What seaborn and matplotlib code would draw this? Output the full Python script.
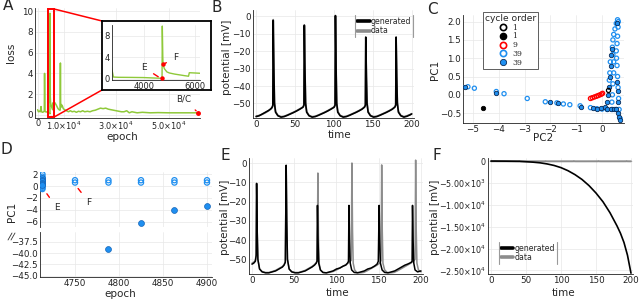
import matplotlib
matplotlib.use("Agg")
import matplotlib.pyplot as plt
import seaborn as sns
from matplotlib.patches import Rectangle, ConnectionPatch
from matplotlib.lines import Line2D
from matplotlib.ticker import FixedLocator, FixedFormatter

sns.set_style("white")
plt.rcParams['font.family'] = ['DejaVu Sans']
plt.rcParams['mathtext.fontset'] = 'dejavusans'

# ---------------- data ----------------
# A: training loss
loss_epoch = [0, 300, 700, 1000, 1300, 1500, 1900, 2300, 2550, 2650,
              2800, 3000, 3500, 4000, 4500, 4700, 4710, 4720, 4740, 4750,
              4800, 4900, 5000, 5200, 5400, 5600, 5750, 5780, 6000, 6200,
              6500, 7000, 7400, 7800, 8200, 8600, 8700, 8800, 9000, 9400,
              9800, 10300, 11000, 11800, 12500, 13200, 14000, 14800, 15600, 16400,
              17200, 18000, 19000, 20000, 21000, 22000, 23000, 24000, 25000, 26000,
              27000, 28000, 29000, 30000, 31000, 32000, 33000, 34000, 35000, 36000,
              37000, 38000, 40000, 43000, 46000, 50000, 55000, 61200]
loss_value = [0.5, 0.3, 0.35, 0.3, 0.8, 0.3, 0.25, 0.3, 0.35, 4.0,
              0.35, 0.3, 0.28, 0.25, 0.15, 0.12, 0.1, 9.8, 4.0, 2.7,
              1.9, 1.3, 1.1, 0.9, 0.75, 0.6, 0.5, 1.15, 1.1, 1.05,
              1.2, 1.0, 0.8, 0.6, 0.5, 0.45, 5.0, 0.7, 1.0, 0.9,
              0.6, 0.5, 0.4, 0.3, 0.4, 0.3, 0.35, 0.25, 0.35, 0.3,
              0.4, 0.3, 0.35, 0.3, 0.4, 0.45, 0.55, 0.65, 0.6, 0.65,
              0.55, 0.5, 0.45, 0.4, 0.35, 0.3, 0.3, 0.4, 0.2, 0.3,
              0.25, 0.2, 0.25, 0.2, 0.22, 0.2, 0.2, 0.2]
marked_epochs = [4710, 4750]
marked_loss = [0.1, 2.7]
bc_epoch, bc_loss = 61200, 0.2

# B: good model
B_time = [0, 4, 8, 12, 16, 19, 20.5, 21.5, 22, 22.8,
          23.6, 25, 28, 32, 36, 40, 44, 48, 52, 56,
          59, 60.5, 61.5, 62, 62.8, 63.6, 65, 68, 72, 76,
          80, 84, 88, 92, 96, 99, 100.5, 101.5, 102, 102.8,
          103.6, 105, 108, 112, 116, 120, 124, 128, 132, 136,
          138, 139.5, 140.5, 141, 141.8, 142.6, 144, 147, 151, 155,
          159, 163, 167, 171, 175, 177, 178.5, 179.5, 180, 180.8,
          181.6, 183, 186, 190, 194, 198, 200]
B_generated = [-57.5, -57, -56, -55, -54, -53, -52.2, -51, -2.5, -30,
               -50, -55, -57, -57.8, -57.5, -56.8, -56, -55.2, -54.3, -53.3,
               -52.5, -52, -51, -5.3, -31, -50, -55, -57, -57.8, -57.5,
               -56.8, -56, -55.2, -54.3, -53.3, -52.5, -52, -51, 0.3, -30,
               -50, -55, -57, -57.8, -57.5, -56.8, -56, -55.2, -54.3, -53.3,
               -52.6, -52, -51, -12, -35, -50, -55, -57, -57.8, -57.5,
               -56.8, -56, -55.2, -54.3, -53.3, -52.6, -52, -51, -12, -35,
               -50, -55, -57, -57.8, -57.3, -56.5, -56]
B_data = [-57.2, -56.8, -56.2, -55.3, -54.2, -53.2, -52.5, -51.5, -2, -28,
          -49, -54.5, -56.8, -57.5, -57.3, -56.6, -55.8, -55, -54.1, -53.1,
          -52.3, -51.8, -50.5, -5, -29, -49, -54.5, -56.8, -57.5, -57.3,
          -56.6, -55.8, -55, -54.1, -53.1, -52.3, -51.8, -50.5, 0, -28,
          -49, -54.5, -56.8, -57.5, -57.3, -56.6, -55.8, -55, -54.1, -53.1,
          -52.4, -51.8, -50.5, -12.5, -33, -49, -54.5, -56.8, -57.5, -57.3,
          -56.6, -55.8, -55, -54.1, -53.1, -52.4, -51.8, -50.5, -12.5, -33,
          -49, -54.5, -56.8, -57.5, -57, -56.3, -55.8]

# C: phase-space points (PC2, PC1)
C_open39_pc2 = [-5.45, -5.2, -4.95, -4.1, -3.8, -2.9, -2.2, -1.75, -1.5, -1.25,
                -0.85, -0.45, -0.2, 0.0, 0.2, 0.4, 0.55, 0.38, 0.4, 0.42,
                0.45, 0.45, 0.42, 0.4, 0.42, 0.45, 0.5, 0.55, 0.6, 0.63,
                0.62, 0.6, 0.58, 0.55, 0.56, 0.58, 0.6, 0.62, 0.64, 0.66,
                0.7, 0.3, 0.32, 0.28]
C_open39_pc1 = [0.21, 0.22, 0.18, 0.09, 0.03, -0.1, -0.19, -0.22, -0.25, -0.27,
                -0.3, -0.35, -0.38, -0.39, -0.4, -0.4, -0.4, -0.2, 0.0, 0.3,
                0.6, 0.9, 1.1, 1.3, 1.5, 1.65, 1.8, 1.95, 2.05, 2.0,
                1.85, 1.6, 1.4, 1.2, 1.0, 0.8, 0.5, 0.2, -0.1, -0.4,
                -0.65, 0.6, 0.9, 0.4]
C_fill39_pc2 = [-5.3, -4.1, -2.0, -1.72, -0.8, -0.35, -0.2, -0.05, 0.1, 0.2,
                0.22, 0.25, 0.3, 0.33, 0.36, 0.38, 0.2, 0.35, 0.45, 0.55,
                0.62, 0.65, 0.68, 0.63, 0.6, 0.58, 0.58]
C_fill39_pc1 = [0.21, 0.06, -0.2, -0.23, -0.32, -0.37, -0.38, -0.37, -0.33, -0.2,
                0.0, 0.2, 0.5, 0.8, 1.1, 1.25, -0.4, -0.4, -0.4, -0.4,
                -0.5, -0.6, -0.7, -0.2, 0.1, 0.35, 1.95]
C_open9_pc2 = [-0.45, -0.38, -0.3, -0.22, -0.15, -0.08, -0.02, 0.02]
C_open9_pc1 = [-0.1, -0.08, -0.06, -0.04, -0.02, 0.0, 0.02, 0.04]
C_open1_pc2 = [0.25]
C_open1_pc1 = [0.12]
C_fill1_pc2 = [-4.6]
C_fill1_pc1 = [-0.35]
C_legend_labels = ["1", "1", "9", "39", "39"]

# D: PC1 per epoch
D_open_epoch = [4713, 4713, 4713, 4713, 4713, 4713, 4713, 4713, 4713, 4713, 4713, 4713,
                4750, 4750, 4788, 4788, 4825, 4825, 4863, 4863, 4900, 4900]
D_open_pc1 = [2.0, 1.6, 1.3, 1.1, 0.9, 0.7, 0.5, 0.3, 0.1, -0.1, -0.3, -0.5,
              1.0, 0.6, 1.0, 0.6, 1.0, 0.6, 1.0, 0.6, 1.0, 0.6]
D_fill_epoch = [4713, 4713, 4713, 4713, 4713, 4713, 4788, 4825, 4863, 4900]
D_fill_pc1 = [1.3, 1.0, 0.8, 0.6, 0.4, 0.2, -39.0, -6.3, -4.0, -3.35]

# E: model at epoch E
E_gen_time = [0, 2, 4, 5, 5.5, 6.2, 7, 9, 12, 16,
              20, 24, 28, 32, 36, 38, 39.5, 40.5, 41.2, 42,
              44, 47, 51, 55, 59, 63, 67, 71, 74, 76,
              77, 77.5, 78.2, 79, 81, 84, 88, 92, 96, 100,
              104, 108, 111, 113, 114.2, 114.8, 115.5, 116.3, 118, 121,
              125, 129, 133, 137, 141, 145, 148, 149.5, 150.5, 151.2,
              152, 154, 157, 161, 165, 169, 173, 177, 181, 184,
              186.5, 188.5, 189.5, 190, 190.7, 191.5, 193, 196, 200]
E_generated = [-52.5, -52, -51, -48, -10.6, -35, -50, -55, -56.5, -57,
               -57, -56.5, -56, -55, -54, -53, -51.5, -1.2, -30, -50,
               -55, -56.5, -57, -57, -56.5, -56, -55, -54, -53, -52,
               -51, -22, -40, -52, -55.5, -56.8, -57, -56.5, -56, -55,
               -54.5, -53.5, -53, -52, -51, -22, -40, -52, -55.5, -56.8,
               -57, -56.5, -56, -55, -54.5, -53.5, -52.5, -51, -22, -40,
               -52, -55.5, -56.8, -57, -56.5, -56, -55, -54, -53, -52.5,
               -52, -51.5, -51, -22, -40, -52, -55.5, -56.5, -56]
E_data_time = [0, 2, 4, 5, 5.5, 6.2, 7, 9, 12, 16,
               20, 24, 28, 32, 36, 38, 39.5, 40.5, 41.2, 42,
               44, 47, 51, 55, 59, 63, 67, 71, 74, 76,
               77.3, 78, 78.7, 79.5, 81, 84, 88, 92, 96, 100,
               104, 108, 112, 115, 117.5, 118.3, 119, 119.8, 121.5, 124,
               128, 132, 136, 140, 144, 148, 151, 152.8, 153.5, 154.2,
               155, 157, 160, 164, 168, 172, 176, 180, 184, 188,
               191, 193, 193.7, 194.4, 195.2, 197, 200]
E_data = [-52, -51.5, -50.5, -47, -10.6, -35, -50, -55, -56.3, -56.8,
          -56.8, -56.3, -55.7, -54.7, -53.7, -52.7, -51, -1.2, -30, -50,
          -55, -56.3, -56.8, -56.8, -56.3, -55.7, -54.7, -53.7, -52.7, -51.7,
          -50.5, -5.2, -38, -52, -55.5, -56.8, -57, -56.8, -56.3, -55.5,
          -54.5, -53.5, -52.5, -51.5, -50.5, 0, -35, -52, -55.5, -56.8,
          -57, -56.8, -56, -55, -54, -53, -52, -50.5, -1, -35,
          -52, -55.5, -56.8, -57, -56.8, -56, -55, -54, -53, -52,
          -51, -50, 1.5, -35, -52, -55.5, -56.5]

# F: model at epoch F (diverging)
F_time = [0, 20, 40, 50, 60, 70, 80, 90, 100, 110, 120, 130, 140, 150, 160, 170, 180, 185, 190, 195, 200]
F_generated = [0, -20, -60, -150, -250, -400, -650, -1000, -1500, -2200, -3100, -4200, -5600,
               -7300, -9300, -11800, -14800, -16500, -18600, -21500, -25600]

# tick labels
A_xticks = [0, 10000, 30000, 50000]
A_xticklabels = ["0", r"$1.0{\times}10^{4}$", r"$3.0{\times}10^{4}$", r"$5.0{\times}10^{4}$"]
F_yticks = [0, -5000, -10000, -15000, -20000, -25000]
F_yticklabels = ["0", r"$-5.00{\times}10^{3}$", r"$-1.00{\times}10^{4}$", r"$-1.50{\times}10^{4}$",
                 r"$-2.00{\times}10^{4}$", r"$-2.50{\times}10^{4}$"]
D_bottom_yticks = [-37.5, -40.0, -42.5, -45.0]
D_bottom_yticklabels = ["\u221237.5", "\u221240.0", "\u221242.5", "\u221245.0"]

# ---------------- styling ----------------
W, H = 640, 306
GREEN = "#8fc93a"
BLUE = "#1f8ff0"
GEN = "black"
DAT = "#8c8c8c"
TS = 6.3
LS = 7.5

fig = plt.figure(figsize=(6.4, 3.06), dpi=100)


def add_ax(l, t, r, b, **kw):
    return fig.add_axes([l / W, 1 - b / H, (r - l) / W, (b - t) / H], **kw)


def style(ax, grid=True):
    for s in ["top", "right"]:
        ax.spines[s].set_visible(False)
    for s in ["left", "bottom"]:
        ax.spines[s].set_color("#222222")
        ax.spines[s].set_linewidth(0.6)
    ax.tick_params(labelsize=TS, length=2, width=0.5, direction="in", pad=1.5, colors="#222222")
    ax.grid(grid, color="#e8e8e8", lw=0.5)
    ax.set_axisbelow(True)
    ax.set_xlabel("")
    ax.set_ylabel("")


def ftext(x, y, s, **kw):
    kw.setdefault("ha", "center")
    kw.setdefault("va", "center")
    kw.setdefault("fontsize", LS)
    fig.text(x / W, 1 - y / H, s, **kw)


def vbar_legend(leg):
    fig.canvas.draw()
    bb = leg.get_window_extent().transformed(fig.transFigure.inverted())
    for xx in (bb.x0, bb.x1):
        fig.add_artist(Line2D([xx, xx], [bb.y0, bb.y1], transform=fig.transFigure,
                              color="#9a9a9a", lw=0.8))


# ---------------- A ----------------
axA = add_ax(35, 8, 200, 118)
sns.lineplot(x=loss_epoch, y=loss_value, ax=axA, color=GREEN, lw=1.1, estimator=None, sort=False)
axA.set_xlim(-1000, 62000)
axA.set_ylim(-0.3, 10.3)
axA.xaxis.set_major_locator(FixedLocator(A_xticks))
axA.xaxis.set_major_formatter(FixedFormatter(A_xticklabels))
axA.set_yticks([0, 2, 4, 6, 8, 10])
style(axA)
axA.tick_params(axis="x", labelsize=5.9, pad=1.0)
axA.add_patch(Rectangle((3850, -0.2), 2500, 10.4, fill=False, edgecolor="red", lw=1.4, zorder=5))
axA.plot([bc_epoch], [bc_loss], "o", color="red", ms=2.5, zorder=6)
axA.annotate("B/C", xy=(bc_epoch - 300, bc_loss + 0.1), xytext=(55900, 1.5), fontsize=6.3,
             ha="center", va="center",
             arrowprops=dict(arrowstyle="-", color="red", lw=1, shrinkA=3, shrinkB=1))

# inset box and connectors
box = add_ax(102, 21, 211, 90)
box.set_xticks([]); box.set_yticks([])
for s in box.spines.values():
    s.set_color("black"); s.set_linewidth(1.3)
box.set_zorder(3)
for (xa, ya), (xb, yb) in [((6350, 10.2), (102, 21)), ((6350, -0.2), (102, 90))]:
    cp = ConnectionPatch(xyA=(xa, ya), coordsA=axA.transData,
                         xyB=(xb / W, 1 - yb / H), coordsB=fig.transFigure,
                         color="red", lw=1.1)
    fig.add_artist(cp)

axI = add_ax(112, 25, 200, 80)
axI.set_zorder(4)
sns.lineplot(x=loss_epoch, y=loss_value, ax=axI, color=GREEN, lw=1.0, estimator=None, sort=False)
axI.set_xlim(2745, 6200)
axI.set_ylim(-0.2, 10)
axI.set_xticks([4000, 6000])
axI.set_yticks([0, 4, 8])
style(axI)
axI.tick_params(labelsize=6)
axI.plot(marked_epochs, marked_loss, "o", color="red", ms=2.2, zorder=6)
axI.annotate("E", xy=(4560, 0.4), xytext=(4000, 2.1), fontsize=6.5, ha="center", va="center",
             arrowprops=dict(arrowstyle="-", color="red", lw=1, shrinkA=3, shrinkB=0))
axI.annotate("F", xy=(4790, 2.8), xytext=(5255, 3.9), fontsize=6.5, ha="center", va="center",
             arrowprops=dict(arrowstyle="-", color="red", lw=1, shrinkA=3, shrinkB=0))

ftext(11, 53, "loss", rotation=90)
ftext(122, 137, "epoch")

# ---------------- B ----------------
axB = add_ax(253, 10, 414, 118)
sns.lineplot(x=B_time, y=B_data, ax=axB, color=DAT, lw=1.2, estimator=None, sort=False, zorder=2)
sns.lineplot(x=B_time, y=B_generated, ax=axB, color=GEN, lw=1.2, estimator=None, sort=False, zorder=3)
axB.set_xlim(-4, 203)
axB.set_ylim(-58.3, 3.5)
axB.set_xticks([0, 50, 100, 150, 200])
axB.set_yticks([0, -10, -20, -30, -40, -50])
style(axB)
hB = [Line2D([], [], color=GEN, lw=2.6), Line2D([], [], color=DAT, lw=2.6)]
legB = axB.legend(hB, ["generated", "data"], loc="upper right", bbox_to_anchor=(413 / W, 1 - 15 / H),
                  bbox_transform=fig.transFigure, frameon=False, fontsize=5.6, handlelength=1.6,
                  handletextpad=0.1, labelspacing=0.05, borderpad=0.25, borderaxespad=0)
ftext(227, 57, "potential [mV]", rotation=90)
ftext(340, 135, "time")

# ---------------- C ----------------
axC = add_ax(463, 15, 624, 123)
sns.scatterplot(x=C_open39_pc2, y=C_open39_pc1, ax=axC, color=BLUE, facecolor="none",
                edgecolor=BLUE, linewidth=0.9, s=9, zorder=3)
sns.scatterplot(x=C_fill39_pc2, y=C_fill39_pc1, ax=axC, color=BLUE, edgecolor="#0a2a55",
                linewidth=0.6, s=10, zorder=4)
sns.scatterplot(x=C_open9_pc2, y=C_open9_pc1, ax=axC, color="red", facecolor="none",
                edgecolor="red", linewidth=0.9, s=9, zorder=5)
sns.scatterplot(x=C_open1_pc2, y=C_open1_pc1, ax=axC, color="black", facecolor="none",
                edgecolor="black", linewidth=0.9, s=9, zorder=6)
sns.scatterplot(x=C_fill1_pc2, y=C_fill1_pc1, ax=axC, color="black", edgecolor="black",
                linewidth=0.6, s=10, zorder=6)
axC.set_xlim(-5.39, 0.85)
axC.set_ylim(-0.77, 2.18)
axC.set_xticks([-5, -4, -3, -2, -1, 0])
axC.set_yticks([-0.5, 0.0, 0.5, 1.0, 1.5, 2.0])
style(axC)
hC = [Line2D([], [], ls="", marker="o", ms=4.5, mfc="none", mec="black", mew=1.2),
      Line2D([], [], ls="", marker="o", ms=4.5, mfc="black", mec="black", mew=1.0),
      Line2D([], [], ls="", marker="o", ms=4.5, mfc="none", mec="red", mew=1.2),
      Line2D([], [], ls="", marker="o", ms=4.5, mfc="none", mec=BLUE, mew=1.2),
      Line2D([], [], ls="", marker="o", ms=4.5, mfc=BLUE, mec="#0a2a55", mew=0.6)]
legC = axC.legend(hC, C_legend_labels, title="cycle order", loc="upper left",
                  bbox_to_anchor=(483 / W, 1 - 12 / H), bbox_transform=fig.transFigure,
                  title_fontsize=6.6, prop={"family": "DejaVu Serif", "size": 5.5},
                  handlelength=1.1, handletextpad=0.6, labelspacing=0.1, borderpad=0.25,
                  borderaxespad=0, fancybox=False, framealpha=1, edgecolor="#444444")
legC.get_frame().set_linewidth(0.6)
legC.set_zorder(10)
ftext(435, 70, "PC1", rotation=90)
ftext(543, 138, "PC2")

# ---------------- D ----------------
axDt = add_ax(40, 172, 212, 227)
axDb = add_ax(40, 232, 212, 277)
for ax in (axDt, axDb):
    sns.scatterplot(x=D_open_epoch, y=D_open_pc1, ax=ax, color=BLUE, facecolor="none",
                    edgecolor=BLUE, linewidth=0.9, s=14, zorder=3)
    sns.scatterplot(x=D_fill_epoch, y=D_fill_pc1, ax=ax, color=BLUE, edgecolor="#1565b8",
                    linewidth=0.5, s=18, zorder=4)
    ax.set_xlim(4710.2, 4905.7)
    ax.set_xticks([4750, 4800, 4850, 4900])
axDt.set_ylim(-6.93, 2.39)
axDt.set_yticks([2, 0, -2, -4, -6])
axDb.set_ylim(-45.3, -35.35)
axDb.yaxis.set_major_locator(FixedLocator(D_bottom_yticks))
axDb.yaxis.set_major_formatter(FixedFormatter(D_bottom_yticklabels))
style(axDt)
style(axDb)
axDt.tick_params(labelbottom=False, bottom=False)
axDt.spines["bottom"].set_visible(False)
axDt.annotate("E", xy=(4718, -1.3), xytext=(4729.5, -3.7), fontsize=6.5, ha="center", va="center",
              arrowprops=dict(arrowstyle="-", color="red", lw=1, shrinkA=2.5, shrinkB=0))
axDt.annotate("F", xy=(4753.5, -0.4), xytext=(4766, -2.8), fontsize=6.5, ha="center", va="center",
              arrowprops=dict(arrowstyle="-", color="red", lw=1, shrinkA=2.5, shrinkB=0))
for dx in (0, 3):
    fig.add_artist(Line2D([(8 + dx) / W, (12 + dx) / W], [1 - 240 / H, 1 - 233 / H],
                          transform=fig.transFigure, color="#333333", lw=0.6))
ftext(12, 212, "PC1", rotation=90)
ftext(120, 294, "epoch")

# ---------------- E ----------------
axE = add_ax(249, 158, 423, 274)
sns.lineplot(x=E_data_time, y=E_data, ax=axE, color=DAT, lw=1.1, estimator=None, sort=False, zorder=2)
sns.lineplot(x=E_gen_time, y=E_generated, ax=axE, color=GEN, lw=1.1, estimator=None, sort=False, zorder=3)
axE.set_xlim(-3.5, 202.4)
axE.set_ylim(-57.6, 2.6)
axE.set_xticks([0, 50, 100, 150, 200])
axE.set_yticks([0, -10, -20, -30, -40, -50])
style(axE)
ftext(225, 217, "potential [mV]", rotation=90)
ftext(338, 293, "time")

# ---------------- F ----------------
axF = add_ax(488, 158, 633, 274)
sns.lineplot(x=E_data_time, y=E_data, ax=axF, color=DAT, lw=1.4, estimator=None, sort=False, zorder=2)
sns.lineplot(x=F_time, y=F_generated, ax=axF, color=GEN, lw=1.2, estimator=None, sort=False, zorder=3)
axF.set_xlim(-4.3, 202.9)
axF.set_ylim(-25800, 700)
axF.set_xticks([0, 50, 100, 150, 200])
axF.yaxis.set_major_locator(FixedLocator(F_yticks))
axF.yaxis.set_major_formatter(FixedFormatter(F_yticklabels))
style(axF)
axF.tick_params(axis="y", labelsize=5.8)
hF = [Line2D([], [], color=GEN, lw=2.6), Line2D([], [], color=DAT, lw=2.6)]
legF = axF.legend(hF, ["generated", "data"], loc="lower left", bbox_to_anchor=(499 / W, 1 - 264 / H),
                  bbox_transform=fig.transFigure, frameon=False, fontsize=5.6, handlelength=1.6,
                  handletextpad=0.1, labelspacing=0.05, borderpad=0.25, borderaxespad=0)
ftext(435, 217, "potential [mV]", rotation=90)
ftext(563, 293, "time")

# panel letters
for x, y, s in [(8, 6, "A"), (217, 7, "B"), (432, 10, "C"), (6, 150, "D"), (225, 155, "E"), (437, 155, "F")]:
    ftext(x, y, s, fontsize=11)

vbar_legend(legB)
vbar_legend(legF)

fig.savefig("out.png", dpi=100)
